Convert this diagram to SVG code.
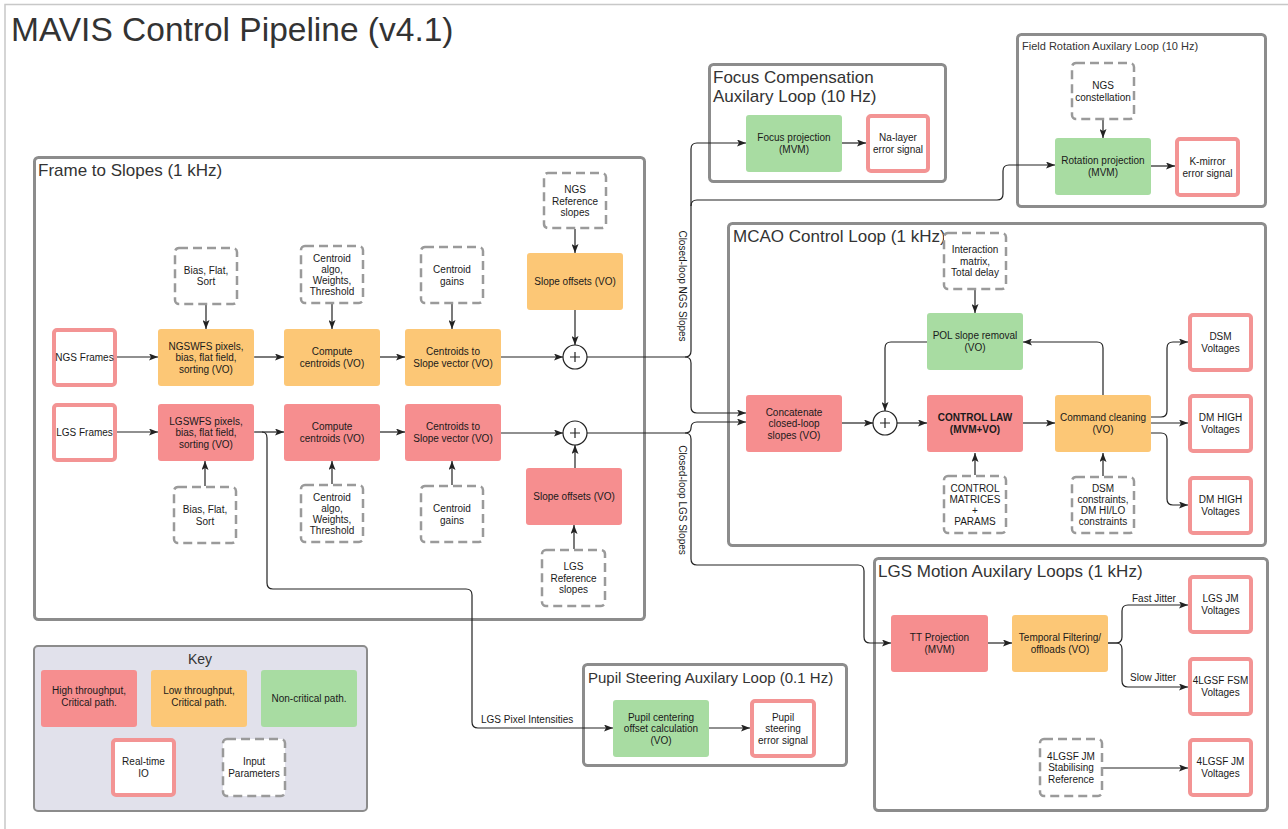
<svg xmlns="http://www.w3.org/2000/svg" width="1288" height="829" viewBox="0 0 1288 829">
<defs>
<marker id="ah" markerUnits="userSpaceOnUse" markerWidth="9" markerHeight="7" refX="9" refY="3.5" orient="auto">
<path d="M0,0 L9,3.5 L0,7 L2,3.5 z" fill="#222"/>
</marker>
<style>
.grp{fill:#fff;stroke:#8c8c8c;stroke-width:3}
.red{fill:#f68e8f}
.org{fill:#fcc776}
.grn{fill:#a8dca2}
.io{fill:#fff;stroke:#f39494;stroke-width:4}
.par{fill:#fff;stroke:#9a9a9a;stroke-width:2.5;stroke-dasharray:9 5}
text{font-family:"Liberation Sans",Arial,sans-serif;fill:#1a1a1a}
.t{font-size:10px;text-anchor:middle}
.h{font-size:17px;fill:#333}
.c{stroke:#222;stroke-width:1.2;fill:none;marker-end:url(#ah)}
.ln{stroke:#222;stroke-width:1.2;fill:none}
.sum{fill:#fff;stroke:#222;stroke-width:1.2}
</style>
</defs>
<rect width="1288" height="829" fill="#fff"/>
<path d="M5,829 V4.5 H1288" fill="none" stroke="#c8c8c8" stroke-width="1.5"/>
<text x="11" y="41" style="font-size:33.5px;fill:#333">MAVIS Control Pipeline (v4.1)</text>

<!-- groups -->
<g id="grp-frame"><rect class="grp" x="34.5" y="157.5" width="610" height="462" rx="4"/><text class="h" x="38" y="176">Frame to Slopes (1 kHz)</text></g>
<g id="grp-focus"><rect class="grp" x="709.5" y="64.5" width="236" height="117" rx="4"/><text class="h" x="713" y="83">Focus Compensation</text><text class="h" x="713" y="102">Auxilary Loop (10 Hz)</text></g>
<g id="grp-rot"><rect class="grp" x="1017.5" y="34.5" width="248" height="172" rx="4"/><text x="1022" y="50" style="font-size:11px;fill:#333">Field Rotation Auxilary Loop (10 Hz)</text></g>
<g id="grp-mcao"><rect class="grp" x="728.5" y="223.5" width="537" height="322" rx="4"/><text class="h" x="733" y="242">MCAO Control Loop (1 kHz)</text></g>
<g id="grp-lgsm"><rect class="grp" x="874.5" y="558.5" width="393" height="252" rx="4"/><text class="h" x="878" y="577">LGS Motion Auxilary Loops (1 kHz)</text></g>
<g id="grp-pupil"><rect class="grp" x="583.5" y="664.5" width="263" height="101" rx="4"/><text x="588" y="683" style="font-size:15px;fill:#333">Pupil Steering Auxilary Loop (0.1 Hz)</text></g>

<!-- connectors -->
<g id="connectors">
<path class="c" d="M117,357 H158"/>
<path class="c" d="M254,357 H284"/>
<path class="c" d="M380,357 H405"/>
<path class="c" d="M501,357 H563"/>
<path class="c" d="M206,305 V329"/>
<path class="c" d="M332,304 V329"/>
<path class="c" d="M452,304 V329"/>
<path class="c" d="M575,229 V253"/>
<path class="c" d="M575,310 V345"/>
<path class="c" d="M117,432 H158"/>
<path class="c" d="M254,432 H284"/>
<path class="c" d="M380,432 H405"/>
<path class="c" d="M501,433 H563"/>
<path class="c" d="M205,486 V461"/>
<path class="c" d="M332,484 V461"/>
<path class="c" d="M452,485 V461"/>
<path class="c" d="M574,549 V525"/>
<path class="c" d="M575,468 V445"/>
<path class="c" d="M262,432 Q267,432 267,438 V583 Q267,589 273,589 H466 Q472,589 472,595 V722 Q472,728 478,728 H613"/>
<path class="c" d="M587,357 H685 Q691,357 691,351 V149 Q691,143 697,143 H746"/>
<path class="c" d="M691,206 Q691,200 697,200 H997 Q1003,200 1003,194 V171 Q1003,165 1009,165 H1055"/>
<path class="c" d="M685,357 Q691,357 691,363 V407 Q691,413 697,413 H746"/>
<path class="c" d="M587,433 H685 Q691,433 691,428 Q691,422 697,422 H746"/>
<path class="c" d="M685,433 Q691,433 691,439 V559 Q691,565 697,565 H858 Q864,565 864,571 V637 Q864,643 870,643 H891"/>
<path class="c" d="M842,143 H866"/>
<path class="c" d="M1103,120 V138"/>
<path class="c" d="M1151,166 H1175"/>
<path class="c" d="M842,423 H873"/>
<path class="c" d="M897,423 H927"/>
<path class="c" d="M1023,423 H1055"/>
<path class="c" d="M1151,423 H1188"/>
<path class="c" d="M1151,417 H1161 Q1167,417 1167,411 V348 Q1167,342 1173,342 H1188"/>
<path class="c" d="M1151,433 H1161 Q1167,433 1167,439 V499 Q1167,505 1173,505 H1188"/>
<path class="c" d="M1103,395 V348 Q1103,342 1097,342 H1023"/>
<path class="c" d="M927,342 H891 Q885,342 885,348 V411"/>
<path class="c" d="M975,290 V313"/>
<path class="c" d="M975,475 V453"/>
<path class="c" d="M1103,476 V453"/>
<path class="c" d="M988,643 H1012"/>
<path class="c" d="M1108,643 H1116 Q1122,643 1122,637 V611 Q1122,605 1128,605 H1188"/>
<path class="c" d="M1108,643 H1116 Q1122,643 1122,649 V681 Q1122,687 1128,687 H1188"/>
<path class="c" d="M1103,768 H1188"/>
<path class="c" d="M709,728 H750"/>
<text x="0" y="0" class="t" transform="translate(679,286) rotate(90)">Closed-loop NGS Slopes</text>
<text x="0" y="0" class="t" transform="translate(679,500) rotate(90)">Closed-loop LGS Slopes</text>
<text x="481" y="723" style="font-size:10px">LGS Pixel Intensities</text>
<text x="1132" y="602" style="font-size:10px">Fast Jitter</text>
<text x="1130" y="681" style="font-size:10px">Slow Jitter</text>
</g>

<!-- Frame to slopes nodes -->
<g id="ngs-frames"><rect class="io" x="54" y="330" width="61" height="55" rx="3"/><text class="t" x="84.5" y="361">NGS Frames</text></g>
<g id="ngswfs"><rect class="org" x="158" y="329" width="96" height="57" rx="3"/><text class="t" x="206" y="349.5">NGSWFS pixels,</text><text class="t" x="206" y="361">bias, flat field,</text><text class="t" x="206" y="372.5">sorting (VO)</text></g>
<g id="ngs-compute"><rect class="org" x="284" y="329" width="96" height="57" rx="3"/><text class="t" x="332" y="355">Compute</text><text class="t" x="332" y="367">centroids (VO)</text></g>
<g id="ngs-c2s"><rect class="org" x="405" y="329" width="96" height="57" rx="3"/><text class="t" x="453" y="355">Centroids to</text><text class="t" x="453" y="367">Slope vector (VO)</text></g>
<g id="ngs-offsets"><rect class="org" x="527" y="253" width="96" height="57" rx="3"/><text class="t" x="575" y="285">Slope offsets (VO)</text></g>
<g id="ngs-sum"><circle class="sum" cx="575" cy="357" r="12"/><path class="ln" d="M570,357 H580 M575,352 V362"/></g>
<g id="ngs-bias"><rect class="par" x="175" y="248" width="62" height="56" rx="4"/><text class="t" x="206" y="274">Bias, Flat,</text><text class="t" x="206" y="285">Sort</text></g>
<g id="ngs-algo"><rect class="par" x="301" y="246" width="62" height="57" rx="4"/><text class="t" x="332" y="262">Centroid</text><text class="t" x="332" y="273">algo,</text><text class="t" x="332" y="284">Weights,</text><text class="t" x="332" y="295">Threshold</text></g>
<g id="ngs-gains"><rect class="par" x="421" y="247" width="62" height="56" rx="4"/><text class="t" x="452" y="273">Centroid</text><text class="t" x="452" y="284.5">gains</text></g>
<g id="ngs-ref"><rect class="par" x="544" y="173" width="62" height="55" rx="4"/><text class="t" x="575" y="193">NGS</text><text class="t" x="575" y="204.5">Reference</text><text class="t" x="575" y="216">slopes</text></g>

<g id="lgs-frames"><rect class="io" x="54" y="405" width="61" height="55" rx="3"/><text class="t" x="84.5" y="436">LGS Frames</text></g>
<g id="lgswfs"><rect class="red" x="158" y="404" width="96" height="57" rx="3"/><text class="t" x="206" y="424.5">LGSWFS pixels,</text><text class="t" x="206" y="436">bias, flat field,</text><text class="t" x="206" y="447.5">sorting (VO)</text></g>
<g id="lgs-compute"><rect class="red" x="284" y="404" width="96" height="57" rx="3"/><text class="t" x="332" y="430">Compute</text><text class="t" x="332" y="442">centroids (VO)</text></g>
<g id="lgs-c2s"><rect class="red" x="405" y="404" width="96" height="57" rx="3"/><text class="t" x="453" y="430">Centroids to</text><text class="t" x="453" y="442">Slope vector (VO)</text></g>
<g id="lgs-offsets"><rect class="red" x="526" y="468" width="96" height="57" rx="3"/><text class="t" x="574" y="500">Slope offsets (VO)</text></g>
<g id="lgs-sum"><circle class="sum" cx="575" cy="433" r="12"/><path class="ln" d="M570,433 H580 M575,428 V438"/></g>
<g id="lgs-bias"><rect class="par" x="174" y="487" width="62" height="56" rx="4"/><text class="t" x="205" y="513">Bias, Flat,</text><text class="t" x="205" y="524.5">Sort</text></g>
<g id="lgs-algo"><rect class="par" x="301" y="485" width="62" height="57" rx="4"/><text class="t" x="332" y="500.5">Centroid</text><text class="t" x="332" y="511.5">algo,</text><text class="t" x="332" y="522.5">Weights,</text><text class="t" x="332" y="533.5">Threshold</text></g>
<g id="lgs-gains"><rect class="par" x="421" y="486" width="62" height="56" rx="4"/><text class="t" x="452" y="512">Centroid</text><text class="t" x="452" y="523.5">gains</text></g>
<g id="lgs-ref"><rect class="par" x="542" y="550" width="63" height="56" rx="4"/><text class="t" x="573.5" y="570">LGS</text><text class="t" x="573.5" y="581.5">Reference</text><text class="t" x="573.5" y="593">slopes</text></g>

<!-- Key -->
<g id="key"><rect x="34" y="646" width="333" height="165" rx="4" fill="#e1e1eb" stroke="#8c8c8c" stroke-width="2"/><text x="200" y="664" style="font-size:14px;text-anchor:middle;fill:#333">Key</text>
<rect class="red" x="41" y="670" width="96" height="57" rx="3"/><text class="t" x="89" y="694">High throughput,</text><text class="t" x="89" y="706">Critical path.</text>
<rect class="org" x="151" y="670" width="96" height="57" rx="3"/><text class="t" x="199" y="694">Low throughput,</text><text class="t" x="199" y="706">Critical path.</text>
<rect class="grn" x="261" y="670" width="96" height="57" rx="3"/><text class="t" x="309" y="702">Non-critical path.</text>
<rect class="io" x="113" y="740" width="61" height="55" rx="3"/><text class="t" x="143.5" y="765">Real-time</text><text class="t" x="143.5" y="777">IO</text>
<rect class="par" x="223" y="739" width="62" height="57" rx="4"/><text class="t" x="254" y="765">Input</text><text class="t" x="254" y="777">Parameters</text></g>

<!-- Focus -->
<g id="focus-proj"><rect class="grn" x="746" y="115" width="96" height="57" rx="3"/><text class="t" x="794" y="141">Focus projection</text><text class="t" x="794" y="153">(MVM)</text></g>
<g id="na-layer"><rect class="io" x="868" y="116" width="60" height="55" rx="3"/><text class="t" x="898" y="141">Na-layer</text><text class="t" x="898" y="153">error signal</text></g>

<!-- Field rotation -->
<g id="ngs-const"><rect class="par" x="1072" y="63" width="62" height="56" rx="4"/><text class="t" x="1103" y="89">NGS</text><text class="t" x="1103" y="100.5">constellation</text></g>
<g id="rot-proj"><rect class="grn" x="1055" y="138" width="96" height="57" rx="3"/><text class="t" x="1103" y="164">Rotation projection</text><text class="t" x="1103" y="176">(MVM)</text></g>
<g id="kmirror"><rect class="io" x="1177" y="139" width="61" height="56" rx="3"/><text class="t" x="1207.5" y="164.5">K-mirror</text><text class="t" x="1207.5" y="176.5">error signal</text></g>

<!-- MCAO -->
<g id="imat"><rect class="par" x="944" y="233" width="62" height="56" rx="4"/><text class="t" x="975" y="253">Interaction</text><text class="t" x="975" y="264.5">matrix,</text><text class="t" x="975" y="276">Total delay</text></g>
<g id="pol"><rect class="grn" x="927" y="313" width="96" height="57" rx="3"/><text class="t" x="975" y="339">POL slope removal</text><text class="t" x="975" y="351">(VO)</text></g>
<g id="concat"><rect class="red" x="746" y="395" width="96" height="57" rx="3"/><text class="t" x="794" y="415.5">Concatenate</text><text class="t" x="794" y="427">closed-loop</text><text class="t" x="794" y="438.5">slopes (VO)</text></g>
<g id="mcao-sum"><circle class="sum" cx="885" cy="423" r="12"/><path class="ln" d="M880,423 H890 M885,418 V428"/></g>
<g id="control-law"><rect class="red" x="927" y="395" width="96" height="57" rx="3"/><text class="t" x="975" y="421" font-weight="bold">CONTROL LAW</text><text class="t" x="975" y="433" font-weight="bold">(MVM+VO)</text></g>
<g id="cmd-clean"><rect class="org" x="1055" y="395" width="96" height="57" rx="3"/><text class="t" x="1103" y="421">Command cleaning</text><text class="t" x="1103" y="433">(VO)</text></g>
<g id="ctrl-mat"><rect class="par" x="944" y="476" width="62" height="57" rx="4"/><text class="t" x="975" y="491.5">CONTROL</text><text class="t" x="975" y="502.5">MATRICES</text><text class="t" x="975" y="513.5">+</text><text class="t" x="975" y="524.5">PARAMS</text></g>
<g id="dsm-cons"><rect class="par" x="1072" y="477" width="62" height="56" rx="4"/><text class="t" x="1103" y="492">DSM</text><text class="t" x="1103" y="503">constraints,</text><text class="t" x="1103" y="514">DM HI/LO</text><text class="t" x="1103" y="525">constraints</text></g>
<g id="dsm-v"><rect class="io" x="1190" y="315" width="61" height="55" rx="3"/><text class="t" x="1220.5" y="340">DSM</text><text class="t" x="1220.5" y="352">Voltages</text></g>
<g id="dmhigh-v1"><rect class="io" x="1190" y="396" width="61" height="55" rx="3"/><text class="t" x="1220.5" y="421">DM HIGH</text><text class="t" x="1220.5" y="433">Voltages</text></g>
<g id="dmhigh-v2"><rect class="io" x="1190" y="478" width="61" height="55" rx="3"/><text class="t" x="1220.5" y="503">DM HIGH</text><text class="t" x="1220.5" y="515">Voltages</text></g>

<!-- LGS motion -->
<g id="tt-proj"><rect class="red" x="891" y="615" width="97" height="57" rx="3"/><text class="t" x="939.5" y="641">TT Projection</text><text class="t" x="939.5" y="653">(MVM)</text></g>
<g id="temporal"><rect class="org" x="1012" y="615" width="96" height="57" rx="3"/><text class="t" x="1060" y="641">Temporal Filtering/</text><text class="t" x="1060" y="653">offloads (VO)</text></g>
<g id="lgsjm-v"><rect class="io" x="1190" y="577" width="61" height="55" rx="3"/><text class="t" x="1220.5" y="602">LGS JM</text><text class="t" x="1220.5" y="614">Voltages</text></g>
<g id="fsm-v"><rect class="io" x="1190" y="659" width="61" height="55" rx="3"/><text class="t" x="1220.5" y="684">4LGSF FSM</text><text class="t" x="1220.5" y="696">Voltages</text></g>
<g id="jm-v"><rect class="io" x="1190" y="740" width="61" height="55" rx="3"/><text class="t" x="1220.5" y="765">4LGSF JM</text><text class="t" x="1220.5" y="777">Voltages</text></g>
<g id="stab-ref"><rect class="par" x="1040" y="739" width="62" height="57" rx="4"/><text class="t" x="1071" y="759.5">4LGSF JM</text><text class="t" x="1071" y="771">Stabilising</text><text class="t" x="1071" y="782.5">Reference</text></g>

<!-- Pupil -->
<g id="pupil-calc"><rect class="grn" x="613" y="700" width="96" height="57" rx="3"/><text class="t" x="661" y="720.5">Pupil centering</text><text class="t" x="661" y="732">offset calculation</text><text class="t" x="661" y="743.5">(VO)</text></g>
<g id="pupil-err"><rect class="io" x="752" y="701" width="62" height="55" rx="3"/><text class="t" x="783" y="720.5">Pupil</text><text class="t" x="783" y="732">steering</text><text class="t" x="783" y="743.5">error signal</text></g>
</svg>
